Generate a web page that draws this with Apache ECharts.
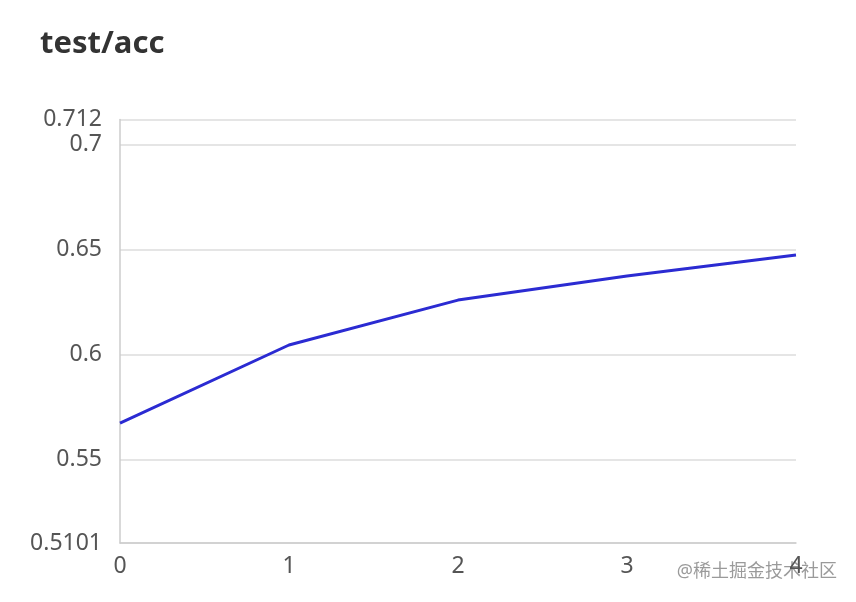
<!DOCTYPE html>
<html>
<head>
<meta charset="utf-8">
<script src="https://cdn.jsdelivr.net/npm/echarts@6/dist/echarts.min.js"></script>
<style>html,body{margin:0;padding:0;background:#fff}#c{width:856px;height:602px}</style>
</head>
<body>
<div id="c"></div>
<script>
var titleText = 'test/acc';
var steps = [0, 1, 2, 3, 4];
var accValues = [0.5672, 0.6045, 0.6259, 0.6374, 0.6474];
var yMin = 0.5101;
var yMax = 0.712;
var watermark = '@稀土掘金技术社区';

var chart = echarts.init(document.getElementById('c'), null, {renderer: 'canvas'});
var font = '"Noto Sans", "Noto Sans CJK SC", sans-serif';
chart.setOption({
  animation: false,
  title: {
    text: titleText, left: 35, top: 24,
    textStyle: {fontSize: 31, fontWeight: 'bold', color: '#333', fontFamily: font}
  },
  grid: {left: 120, right: 60, top: 119.5, bottom: 59, containLabel: false},
  xAxis: {
    type: 'value', min: 0, max: 4, interval: 1,
    axisLine: {show: true, lineStyle: {color: '#ccc', width: 1.5}},
    axisTick: {show: false},
    splitLine: {show: false},
    axisLabel: {fontSize: 23, color: '#555', margin: 12, fontFamily: font}
  },
  yAxis: {
    type: 'value', min: yMin, max: yMax, splitNumber: 4,
    axisLine: {show: true, lineStyle: {color: '#ccc', width: 1.5}},
    axisTick: {show: false},
    splitLine: {show: true, lineStyle: {color: '#ddd', width: 1.5}},
    axisLabel: {fontSize: 23, color: '#555', margin: 18, fontFamily: font}
  },
  series: [{
    type: 'line',
    data: steps.map(function (s, i) { return [s, accValues[i]]; }),
    symbol: 'none',
    lineStyle: {color: '#2b2bd2', width: 3}
  }],
  graphic: [{
    type: 'text', right: 19, top: 563,
    style: {text: watermark, fontSize: 18, fill: 'rgba(120,120,120,0.75)', fontFamily: font}
  }]
});
</script>
</body>
</html>
